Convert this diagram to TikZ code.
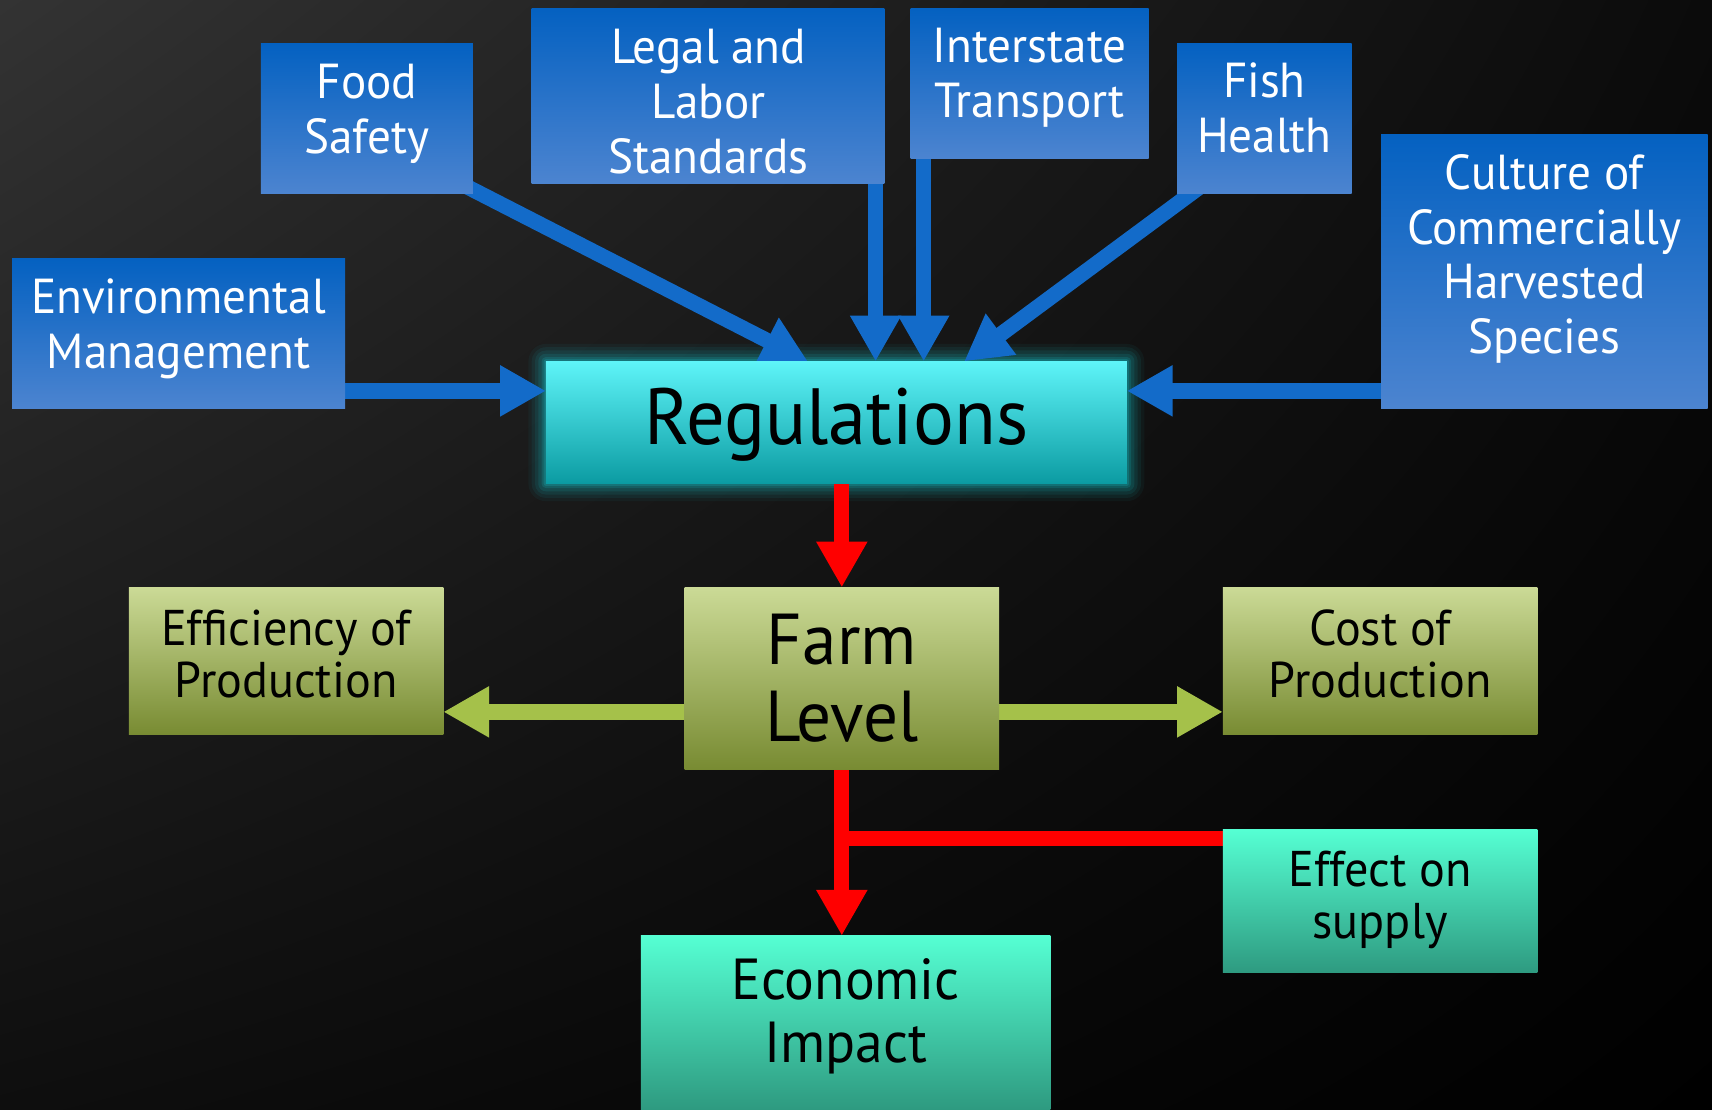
\documentclass[tikz,border=0pt]{standalone}
\usepackage{fontspec}
\setmainfont{PT Sans}[FakeStretch=0.96]
\usetikzlibrary{arrows.meta,calc,shadings}
\definecolor{bgUL}{HTML}{333333}
\definecolor{bgUR}{HTML}{0B0B0B}
\definecolor{bgLL}{HTML}{0E0E0E}
\definecolor{bgLR}{HTML}{000000}
\definecolor{blueT}{HTML}{0461C1}
\definecolor{blueM}{HTML}{1770CB}
\definecolor{blueB}{HTML}{4C84D0}
\definecolor{regT}{HTML}{5EF4F8}
\definecolor{regM}{HTML}{0ED8E0}
\definecolor{regB}{HTML}{0B9BA2}
\definecolor{grnT}{HTML}{CBDA96}
\definecolor{grnM}{HTML}{A9C152}
\definecolor{grnB}{HTML}{788B32}
\definecolor{tealT}{HTML}{55FFD3}
\definecolor{tealM}{HTML}{45DDB8}
\definecolor{tealB}{HTML}{2E9A80}
\definecolor{arrBlue}{HTML}{136BC9}
\definecolor{arrGreen}{HTML}{A5C14A}
\definecolor{glowC}{HTML}{16C8D0}
\pgfdeclarelayer{bg}
\pgfdeclarelayer{conn}
\pgfsetlayers{bg,conn,main}
\tikzset{
  box/.style={rectangle, inner sep=0pt, outer sep=0pt},
  bluebox/.style={box, top color=blueT, middle color=blueM, bottom color=blueB},
  regbox/.style={box, top color=regT, middle color=regM, bottom color=regB},
  grnbox/.style={box, top color=grnT, middle color=grnM, bottom color=grnB},
  tealbox/.style={box, top color=tealT, middle color=tealM, bottom color=tealB},
  wtxt/.style={text=white, align=center, inner sep=0pt, font=\fontsize{45}{50}\selectfont},
  btxt/.style={text=black, align=center, inner sep=0pt, font=\fontsize{46}{48}\selectfont},
  tip/.style={-{Triangle[length=42pt,width=44pt]}},
  bluearrow/.style={draw=arrBlue, line width=14pt, tip},
  redarrow/.style={draw=red, line width=14pt, tip},
  redline/.style={draw=red, line width=14pt},
  grnarrow/.style={draw=arrGreen, line width=14pt, tip},
}
\begin{document}
\begin{tikzpicture}[x=1pt,y=-1pt]
\useasboundingbox (0,0) rectangle (1568,1016);
\begin{pgfonlayer}{bg}
  \shade[upper left=bgUL, upper right=bgUR, lower left=bgLL, lower right=bgLR] (0,0) rectangle (1568,1016);
\end{pgfonlayer}

% boxes
\node[bluebox, minimum width=194pt, minimum height=137pt] (fs) at (336,108.5) {};
\node[bluebox, minimum width=323pt, minimum height=160pt] (legal) at (648.5,88) {};
\node[bluebox, minimum width=218pt, minimum height=137pt] (inter) at (943,76.5) {};
\node[bluebox, minimum width=160pt, minimum height=137pt] (fish) at (1158,108.5) {};
\node[bluebox, minimum width=305pt, minimum height=137pt] (env) at (163.5,305.5) {};
\node[bluebox, minimum width=299pt, minimum height=251pt] (cult) at (1414.5,248.5) {};
\node[regbox, minimum width=532pt, minimum height=112pt] (reg) at (766,387) {};
\node[grnbox, minimum width=288pt, minimum height=167pt] (farm) at (771,621.5) {};
\node[grnbox, minimum width=288pt, minimum height=135pt] (eff) at (262,605.5) {};
\node[grnbox, minimum width=288pt, minimum height=135pt] (cost) at (1264,605.5) {};
\node[tealbox, minimum width=288pt, minimum height=131pt] (supply) at (1264,825.5) {};
\node[tealbox, minimum width=375pt, minimum height=159pt] (econ) at (774.5,936.5) {};

% texts
\node[wtxt] (fst) at (336,104) {Food\\Safety};
\node[wtxt] (legalt) at (649,93) {Legal and\\Labor\\Standards};
\node[wtxt] (intert) at (943,71) {Interstate\\Transport};
\node[wtxt] (fisht) at (1158,99) {Fish\\Health};
\node[wtxt] (envt) at (163.5,301) {Environmental\\Management};
\node[wtxt] (cultt) at (1414.5,237) {Culture of\\Commercially\\Harvested\\Species};
\node[text=black, inner sep=0pt, font=\fontsize{73}{80}\selectfont] (regt) at (766,389) {Regulations};
\node[text=black, align=center, inner sep=0pt, font=\fontsize{66}{70}\selectfont] (farmt) at (771,621) {Farm\\Level};
\node[btxt] (efft) at (262,599) {Efficiency of\\Production};
\node[btxt] (costt) at (1264,599) {Cost of\\Production};
\node[btxt] (supplyt) at (1264,824) {Effect on\\supply};
\node[text=black, align=center, inner sep=0pt, font=\fontsize{53}{58}\selectfont] (econt) at (774.5,931) {Economic\\Impact};

% connection points
\coordinate (fsS) at ([shift={(-21,-14)}]fs.south east);
\coordinate (fsE) at ($(reg.north west)!0.451!(reg.north east)$);
\coordinate (lgS) at ($(legal.south west)!0.975!(legal.south east)$);
\coordinate (itS) at ($(inter.south west)!0.055!(inter.south east)$);
\coordinate (fhS) at ([shift={(28,-11)}]fish.south west);
\coordinate (fhE) at ($(reg.north west)!0.72!(reg.north east)$);
\coordinate (envS) at ([yshift=16pt]env.south east);
\coordinate (cultS) at ([yshift=16pt]cult.south west);
\coordinate (fmL) at ([yshift=53pt]farm.south west);
\coordinate (fmR) at ([yshift=53pt]farm.south east);
\coordinate (js) at ([yshift=-8pt]supply.north west);
\coordinate (jf) at (farm.south |- js);

\begin{pgfonlayer}{conn}
  \foreach \r/\o in {16/0.05,13/0.07,10/0.09,7/0.12,4/0.16,2/0.2}{
    \fill[glowC, opacity=\o, rounded corners=\r pt]
      ([xshift=-\r pt,yshift=\r pt]reg.north west) rectangle ([xshift=\r pt,yshift=-\r pt]reg.south east);
  }
  \draw[bluearrow] (envS) -- (envS -| reg.west);
  \draw[bluearrow] (cultS) -- (cultS -| reg.east);
  \draw[bluearrow] (fsS) -- (fsE);
  \draw[bluearrow] (lgS) -- (lgS |- reg.north);
  \draw[bluearrow] (itS) -- (itS |- reg.north);
  \draw[bluearrow] (fhS) -- (fhE);
  \draw[redarrow] (farm.north |- reg.south) -- (farm.north);
  \draw[redline] (js) -- (jf);
  \draw[redarrow] (farm.south) -- (farm.south |- econ.north);
  \draw[grnarrow] (fmL) -- (fmL -| eff.east);
  \draw[grnarrow] (fmR) -- (fmR -| cost.west);
\end{pgfonlayer}
\end{tikzpicture}
\end{document}
